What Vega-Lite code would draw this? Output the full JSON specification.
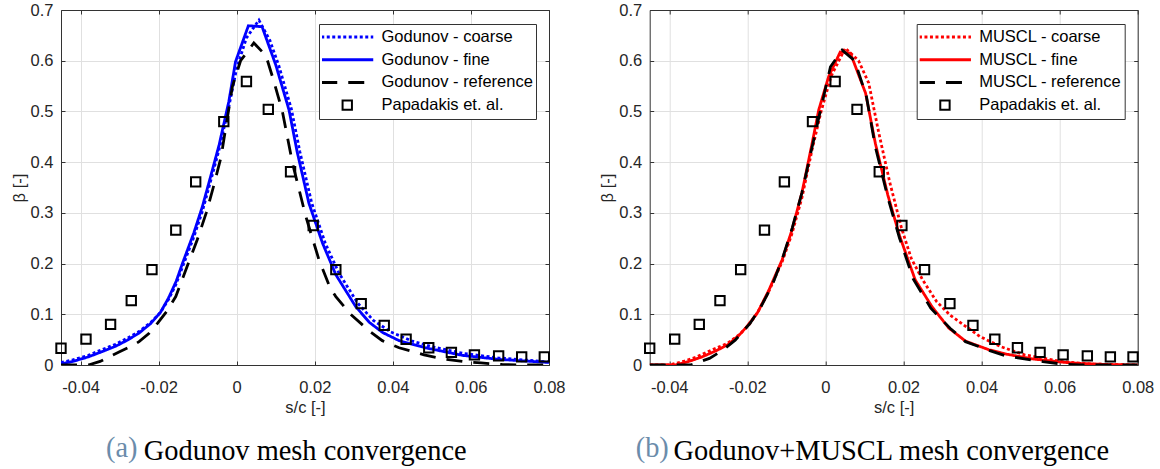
{
  "$schema": "https://vega.github.io/schema/vega-lite/v6.json",
  "padding": {"left": 11, "top": 2, "right": 0, "bottom": 0},
  "config": {
    "font": "Liberation Sans",
    "view": {"stroke": null},
    "axis": {"labelFont": "Liberation Sans", "labelFontSize": 16.5, "labelColor": "#262626", "titleFont": "Liberation Sans", "titleFontSize": 16.5, "titleFontWeight": "normal", "titleColor": "#262626", "domainColor": "#333333", "domainWidth": 1, "tickColor": "#333333", "tickSize": -4, "tickWidth": 1, "gridColor": "#e0e0e0", "gridWidth": 1, "labelFlush": false, "labelOverlap": false},
    "legend": {"labelFont": "Liberation Sans", "labelFontSize": 16.5, "labelColor": "#000000", "symbolSize": 2704, "clipHeight": 20, "rowPadding": 2.7, "padding": 3, "strokeColor": "#333333", "fillColor": "#ffffff", "symbolOffset": 17, "labelOffset": 26, "symbolStrokeWidth": 3, "labelLimit": 300}
  },
  "datasets": {
    "exp": [
      {"series": "Papadakis et. al.", "x": -0.045, "y": 0.033},
      {"series": "Papadakis et. al.", "x": -0.0386, "y": 0.051},
      {"series": "Papadakis et. al.", "x": -0.0323, "y": 0.08},
      {"series": "Papadakis et. al.", "x": -0.027, "y": 0.127},
      {"series": "Papadakis et. al.", "x": -0.0217, "y": 0.188},
      {"series": "Papadakis et. al.", "x": -0.0156, "y": 0.266},
      {"series": "Papadakis et. al.", "x": -0.0105, "y": 0.361},
      {"series": "Papadakis et. al.", "x": -0.0033, "y": 0.48},
      {"series": "Papadakis et. al.", "x": 0.0025, "y": 0.559},
      {"series": "Papadakis et. al.", "x": 0.0081, "y": 0.504},
      {"series": "Papadakis et. al.", "x": 0.0138, "y": 0.381},
      {"series": "Papadakis et. al.", "x": 0.0196, "y": 0.275},
      {"series": "Papadakis et. al.", "x": 0.0254, "y": 0.188},
      {"series": "Papadakis et. al.", "x": 0.0319, "y": 0.121},
      {"series": "Papadakis et. al.", "x": 0.0378, "y": 0.078},
      {"series": "Papadakis et. al.", "x": 0.0434, "y": 0.0507},
      {"series": "Papadakis et. al.", "x": 0.0492, "y": 0.034},
      {"series": "Papadakis et. al.", "x": 0.055, "y": 0.025},
      {"series": "Papadakis et. al.", "x": 0.0609, "y": 0.02},
      {"series": "Papadakis et. al.", "x": 0.0671, "y": 0.018},
      {"series": "Papadakis et. al.", "x": 0.073, "y": 0.016},
      {"series": "Papadakis et. al.", "x": 0.0788, "y": 0.016}
    ],
    "curves": [
      {"panel": "a", "series": "Godunov - fine", "x": -0.045, "y": 0.002},
      {"panel": "a", "series": "Godunov - fine", "x": -0.042, "y": 0.007},
      {"panel": "a", "series": "Godunov - fine", "x": -0.038, "y": 0.016},
      {"panel": "a", "series": "Godunov - fine", "x": -0.0346, "y": 0.026},
      {"panel": "a", "series": "Godunov - fine", "x": -0.031, "y": 0.037},
      {"panel": "a", "series": "Godunov - fine", "x": -0.028, "y": 0.049},
      {"panel": "a", "series": "Godunov - fine", "x": -0.025, "y": 0.063},
      {"panel": "a", "series": "Godunov - fine", "x": -0.022, "y": 0.082},
      {"panel": "a", "series": "Godunov - fine", "x": -0.0195, "y": 0.104},
      {"panel": "a", "series": "Godunov - fine", "x": -0.0174, "y": 0.133},
      {"panel": "a", "series": "Godunov - fine", "x": -0.0155, "y": 0.165},
      {"panel": "a", "series": "Godunov - fine", "x": -0.0139, "y": 0.2},
      {"panel": "a", "series": "Godunov - fine", "x": -0.011, "y": 0.26},
      {"panel": "a", "series": "Godunov - fine", "x": -0.0088, "y": 0.312},
      {"panel": "a", "series": "Godunov - fine", "x": -0.0067, "y": 0.371},
      {"panel": "a", "series": "Godunov - fine", "x": -0.0045, "y": 0.434},
      {"panel": "a", "series": "Godunov - fine", "x": -0.002, "y": 0.52},
      {"panel": "a", "series": "Godunov - fine", "x": -0.0003, "y": 0.598},
      {"panel": "a", "series": "Godunov - fine", "x": 0.003, "y": 0.669},
      {"panel": "a", "series": "Godunov - fine", "x": 0.0065, "y": 0.667},
      {"panel": "a", "series": "Godunov - fine", "x": 0.01, "y": 0.592},
      {"panel": "a", "series": "Godunov - fine", "x": 0.0134, "y": 0.503},
      {"panel": "a", "series": "Godunov - fine", "x": 0.0155, "y": 0.42},
      {"panel": "a", "series": "Godunov - fine", "x": 0.0185, "y": 0.319},
      {"panel": "a", "series": "Godunov - fine", "x": 0.022, "y": 0.24},
      {"panel": "a", "series": "Godunov - fine", "x": 0.0254, "y": 0.178},
      {"panel": "a", "series": "Godunov - fine", "x": 0.0305, "y": 0.115},
      {"panel": "a", "series": "Godunov - fine", "x": 0.034, "y": 0.084},
      {"panel": "a", "series": "Godunov - fine", "x": 0.0374, "y": 0.064},
      {"panel": "a", "series": "Godunov - fine", "x": 0.0416, "y": 0.048},
      {"panel": "a", "series": "Godunov - fine", "x": 0.0483, "y": 0.034},
      {"panel": "a", "series": "Godunov - fine", "x": 0.0578, "y": 0.019},
      {"panel": "a", "series": "Godunov - fine", "x": 0.0673, "y": 0.011},
      {"panel": "a", "series": "Godunov - fine", "x": 0.08, "y": 0.005},

      {"panel": "a", "series": "Godunov - coarse", "x": -0.045, "y": 0.005},
      {"panel": "a", "series": "Godunov - coarse", "x": -0.042, "y": 0.01},
      {"panel": "a", "series": "Godunov - coarse", "x": -0.038, "y": 0.019},
      {"panel": "a", "series": "Godunov - coarse", "x": -0.0346, "y": 0.03},
      {"panel": "a", "series": "Godunov - coarse", "x": -0.031, "y": 0.041},
      {"panel": "a", "series": "Godunov - coarse", "x": -0.028, "y": 0.053},
      {"panel": "a", "series": "Godunov - coarse", "x": -0.025, "y": 0.066},
      {"panel": "a", "series": "Godunov - coarse", "x": -0.022, "y": 0.084},
      {"panel": "a", "series": "Godunov - coarse", "x": -0.0195, "y": 0.104},
      {"panel": "a", "series": "Godunov - coarse", "x": -0.0174, "y": 0.13},
      {"panel": "a", "series": "Godunov - coarse", "x": -0.0155, "y": 0.16},
      {"panel": "a", "series": "Godunov - coarse", "x": -0.0139, "y": 0.193},
      {"panel": "a", "series": "Godunov - coarse", "x": -0.011, "y": 0.252},
      {"panel": "a", "series": "Godunov - coarse", "x": -0.0088, "y": 0.303},
      {"panel": "a", "series": "Godunov - coarse", "x": -0.0067, "y": 0.362},
      {"panel": "a", "series": "Godunov - coarse", "x": -0.0045, "y": 0.425},
      {"panel": "a", "series": "Godunov - coarse", "x": -0.002, "y": 0.51},
      {"panel": "a", "series": "Godunov - coarse", "x": 0.0, "y": 0.585},
      {"panel": "a", "series": "Godunov - coarse", "x": 0.0025, "y": 0.645},
      {"panel": "a", "series": "Godunov - coarse", "x": 0.0057, "y": 0.68},
      {"panel": "a", "series": "Godunov - coarse", "x": 0.0085, "y": 0.64},
      {"panel": "a", "series": "Godunov - coarse", "x": 0.0108, "y": 0.59},
      {"panel": "a", "series": "Godunov - coarse", "x": 0.014, "y": 0.505},
      {"panel": "a", "series": "Godunov - coarse", "x": 0.0162, "y": 0.42},
      {"panel": "a", "series": "Godunov - coarse", "x": 0.0192, "y": 0.32},
      {"panel": "a", "series": "Godunov - coarse", "x": 0.0227, "y": 0.24},
      {"panel": "a", "series": "Godunov - coarse", "x": 0.0262, "y": 0.181},
      {"panel": "a", "series": "Godunov - coarse", "x": 0.031, "y": 0.122},
      {"panel": "a", "series": "Godunov - coarse", "x": 0.035, "y": 0.088},
      {"panel": "a", "series": "Godunov - coarse", "x": 0.0395, "y": 0.065},
      {"panel": "a", "series": "Godunov - coarse", "x": 0.045, "y": 0.047},
      {"panel": "a", "series": "Godunov - coarse", "x": 0.05, "y": 0.036},
      {"panel": "a", "series": "Godunov - coarse", "x": 0.058, "y": 0.023},
      {"panel": "a", "series": "Godunov - coarse", "x": 0.067, "y": 0.014},
      {"panel": "a", "series": "Godunov - coarse", "x": 0.08, "y": 0.006},

      {"panel": "a", "series": "Godunov - reference", "x": -0.045, "y": 0.0},
      {"panel": "a", "series": "Godunov - reference", "x": -0.038, "y": 0.0},
      {"panel": "a", "series": "Godunov - reference", "x": -0.035, "y": 0.007},
      {"panel": "a", "series": "Godunov - reference", "x": -0.0327, "y": 0.016},
      {"panel": "a", "series": "Godunov - reference", "x": -0.03, "y": 0.026},
      {"panel": "a", "series": "Godunov - reference", "x": -0.027, "y": 0.037},
      {"panel": "a", "series": "Godunov - reference", "x": -0.025, "y": 0.046},
      {"panel": "a", "series": "Godunov - reference", "x": -0.0225, "y": 0.062},
      {"panel": "a", "series": "Godunov - reference", "x": -0.0203, "y": 0.082},
      {"panel": "a", "series": "Godunov - reference", "x": -0.018, "y": 0.105},
      {"panel": "a", "series": "Godunov - reference", "x": -0.0156, "y": 0.135},
      {"panel": "a", "series": "Godunov - reference", "x": -0.0127, "y": 0.194},
      {"panel": "a", "series": "Godunov - reference", "x": -0.0101, "y": 0.247},
      {"panel": "a", "series": "Godunov - reference", "x": -0.0078, "y": 0.3},
      {"panel": "a", "series": "Godunov - reference", "x": -0.006, "y": 0.35},
      {"panel": "a", "series": "Godunov - reference", "x": -0.004, "y": 0.41},
      {"panel": "a", "series": "Godunov - reference", "x": -0.0011, "y": 0.549},
      {"panel": "a", "series": "Godunov - reference", "x": 0.001, "y": 0.6},
      {"panel": "a", "series": "Godunov - reference", "x": 0.0044, "y": 0.635},
      {"panel": "a", "series": "Godunov - reference", "x": 0.0075, "y": 0.61},
      {"panel": "a", "series": "Godunov - reference", "x": 0.0095, "y": 0.56},
      {"panel": "a", "series": "Godunov - reference", "x": 0.0117, "y": 0.5},
      {"panel": "a", "series": "Godunov - reference", "x": 0.0143, "y": 0.398},
      {"panel": "a", "series": "Godunov - reference", "x": 0.0177, "y": 0.293},
      {"panel": "a", "series": "Godunov - reference", "x": 0.0211, "y": 0.207},
      {"panel": "a", "series": "Godunov - reference", "x": 0.024, "y": 0.151},
      {"panel": "a", "series": "Godunov - reference", "x": 0.0254, "y": 0.135},
      {"panel": "a", "series": "Godunov - reference", "x": 0.0292, "y": 0.1},
      {"panel": "a", "series": "Godunov - reference", "x": 0.034, "y": 0.067},
      {"panel": "a", "series": "Godunov - reference", "x": 0.0373, "y": 0.048},
      {"panel": "a", "series": "Godunov - reference", "x": 0.0416, "y": 0.034},
      {"panel": "a", "series": "Godunov - reference", "x": 0.048, "y": 0.02},
      {"panel": "a", "series": "Godunov - reference", "x": 0.053, "y": 0.012},
      {"panel": "a", "series": "Godunov - reference", "x": 0.058, "y": 0.007},
      {"panel": "a", "series": "Godunov - reference", "x": 0.0626, "y": 0.004},
      {"panel": "a", "series": "Godunov - reference", "x": 0.068, "y": 0.001},
      {"panel": "a", "series": "Godunov - reference", "x": 0.072, "y": 0.0},
      {"panel": "a", "series": "Godunov - reference", "x": 0.08, "y": 0.0},

      {"panel": "b", "series": "MUSCL - fine", "x": -0.045, "y": 0.0},
      {"panel": "b", "series": "MUSCL - fine", "x": -0.0385, "y": 0.0},
      {"panel": "b", "series": "MUSCL - fine", "x": -0.035, "y": 0.007},
      {"panel": "b", "series": "MUSCL - fine", "x": -0.0316, "y": 0.016},
      {"panel": "b", "series": "MUSCL - fine", "x": -0.028, "y": 0.028},
      {"panel": "b", "series": "MUSCL - fine", "x": -0.025, "y": 0.04},
      {"panel": "b", "series": "MUSCL - fine", "x": -0.0222, "y": 0.058},
      {"panel": "b", "series": "MUSCL - fine", "x": -0.0202, "y": 0.075},
      {"panel": "b", "series": "MUSCL - fine", "x": -0.0174, "y": 0.103},
      {"panel": "b", "series": "MUSCL - fine", "x": -0.0145, "y": 0.147},
      {"panel": "b", "series": "MUSCL - fine", "x": -0.0111, "y": 0.207},
      {"panel": "b", "series": "MUSCL - fine", "x": -0.0086, "y": 0.265},
      {"panel": "b", "series": "MUSCL - fine", "x": -0.006, "y": 0.34},
      {"panel": "b", "series": "MUSCL - fine", "x": -0.0034, "y": 0.437},
      {"panel": "b", "series": "MUSCL - fine", "x": -0.0017, "y": 0.503},
      {"panel": "b", "series": "MUSCL - fine", "x": 0.00085, "y": 0.569},
      {"panel": "b", "series": "MUSCL - fine", "x": 0.0038, "y": 0.617},
      {"panel": "b", "series": "MUSCL - fine", "x": 0.0064, "y": 0.615},
      {"panel": "b", "series": "MUSCL - fine", "x": 0.0103, "y": 0.536},
      {"panel": "b", "series": "MUSCL - fine", "x": 0.0128, "y": 0.437},
      {"panel": "b", "series": "MUSCL - fine", "x": 0.016, "y": 0.335},
      {"panel": "b", "series": "MUSCL - fine", "x": 0.019, "y": 0.255},
      {"panel": "b", "series": "MUSCL - fine", "x": 0.023, "y": 0.168},
      {"panel": "b", "series": "MUSCL - fine", "x": 0.0273, "y": 0.115},
      {"panel": "b", "series": "MUSCL - fine", "x": 0.0316, "y": 0.073},
      {"panel": "b", "series": "MUSCL - fine", "x": 0.0359, "y": 0.047},
      {"panel": "b", "series": "MUSCL - fine", "x": 0.0419, "y": 0.03},
      {"panel": "b", "series": "MUSCL - fine", "x": 0.046, "y": 0.022},
      {"panel": "b", "series": "MUSCL - fine", "x": 0.053, "y": 0.012},
      {"panel": "b", "series": "MUSCL - fine", "x": 0.0615, "y": 0.005},
      {"panel": "b", "series": "MUSCL - fine", "x": 0.0652, "y": 0.003},
      {"panel": "b", "series": "MUSCL - fine", "x": 0.072, "y": 0.001},
      {"panel": "b", "series": "MUSCL - fine", "x": 0.08, "y": 0.0},

      {"panel": "b", "series": "MUSCL - coarse", "x": -0.045, "y": 0.0},
      {"panel": "b", "series": "MUSCL - coarse", "x": -0.04, "y": 0.0},
      {"panel": "b", "series": "MUSCL - coarse", "x": -0.0364, "y": 0.007},
      {"panel": "b", "series": "MUSCL - coarse", "x": -0.033, "y": 0.016},
      {"panel": "b", "series": "MUSCL - coarse", "x": -0.029, "y": 0.03},
      {"panel": "b", "series": "MUSCL - coarse", "x": -0.025, "y": 0.043},
      {"panel": "b", "series": "MUSCL - coarse", "x": -0.022, "y": 0.06},
      {"panel": "b", "series": "MUSCL - coarse", "x": -0.0195, "y": 0.08},
      {"panel": "b", "series": "MUSCL - coarse", "x": -0.0174, "y": 0.103},
      {"panel": "b", "series": "MUSCL - coarse", "x": -0.0145, "y": 0.145},
      {"panel": "b", "series": "MUSCL - coarse", "x": -0.0111, "y": 0.203},
      {"panel": "b", "series": "MUSCL - coarse", "x": -0.0086, "y": 0.258},
      {"panel": "b", "series": "MUSCL - coarse", "x": -0.006, "y": 0.33},
      {"panel": "b", "series": "MUSCL - coarse", "x": -0.0034, "y": 0.425},
      {"panel": "b", "series": "MUSCL - coarse", "x": -0.0011, "y": 0.5},
      {"panel": "b", "series": "MUSCL - coarse", "x": 0.0015, "y": 0.57},
      {"panel": "b", "series": "MUSCL - coarse", "x": 0.0051, "y": 0.625},
      {"panel": "b", "series": "MUSCL - coarse", "x": 0.0085, "y": 0.6},
      {"panel": "b", "series": "MUSCL - coarse", "x": 0.0111, "y": 0.556},
      {"panel": "b", "series": "MUSCL - coarse", "x": 0.0137, "y": 0.457},
      {"panel": "b", "series": "MUSCL - coarse", "x": 0.0165, "y": 0.36},
      {"panel": "b", "series": "MUSCL - coarse", "x": 0.0195, "y": 0.27},
      {"panel": "b", "series": "MUSCL - coarse", "x": 0.022, "y": 0.21},
      {"panel": "b", "series": "MUSCL - coarse", "x": 0.0249, "y": 0.168},
      {"panel": "b", "series": "MUSCL - coarse", "x": 0.0285, "y": 0.125},
      {"panel": "b", "series": "MUSCL - coarse", "x": 0.032, "y": 0.098},
      {"panel": "b", "series": "MUSCL - coarse", "x": 0.0396, "y": 0.056},
      {"panel": "b", "series": "MUSCL - coarse", "x": 0.045, "y": 0.036},
      {"panel": "b", "series": "MUSCL - coarse", "x": 0.051, "y": 0.02},
      {"panel": "b", "series": "MUSCL - coarse", "x": 0.0605, "y": 0.007},
      {"panel": "b", "series": "MUSCL - coarse", "x": 0.068, "y": 0.002},
      {"panel": "b", "series": "MUSCL - coarse", "x": 0.08, "y": 0.0},

      {"panel": "b", "series": "MUSCL - reference", "x": -0.045, "y": 0.0},
      {"panel": "b", "series": "MUSCL - reference", "x": -0.0345, "y": 0.0},
      {"panel": "b", "series": "MUSCL - reference", "x": -0.0297, "y": 0.013},
      {"panel": "b", "series": "MUSCL - reference", "x": -0.0265, "y": 0.028},
      {"panel": "b", "series": "MUSCL - reference", "x": -0.0231, "y": 0.049},
      {"panel": "b", "series": "MUSCL - reference", "x": -0.0193, "y": 0.082},
      {"panel": "b", "series": "MUSCL - reference", "x": -0.0165, "y": 0.115},
      {"panel": "b", "series": "MUSCL - reference", "x": -0.0136, "y": 0.158},
      {"panel": "b", "series": "MUSCL - reference", "x": -0.011, "y": 0.21},
      {"panel": "b", "series": "MUSCL - reference", "x": -0.0085, "y": 0.27},
      {"panel": "b", "series": "MUSCL - reference", "x": -0.006, "y": 0.34},
      {"panel": "b", "series": "MUSCL - reference", "x": -0.0034, "y": 0.43},
      {"panel": "b", "series": "MUSCL - reference", "x": 0.0013, "y": 0.588},
      {"panel": "b", "series": "MUSCL - reference", "x": 0.0043, "y": 0.621},
      {"panel": "b", "series": "MUSCL - reference", "x": 0.0075, "y": 0.6},
      {"panel": "b", "series": "MUSCL - reference", "x": 0.0105, "y": 0.53},
      {"panel": "b", "series": "MUSCL - reference", "x": 0.0128, "y": 0.43},
      {"panel": "b", "series": "MUSCL - reference", "x": 0.016, "y": 0.33},
      {"panel": "b", "series": "MUSCL - reference", "x": 0.019, "y": 0.25},
      {"panel": "b", "series": "MUSCL - reference", "x": 0.0225, "y": 0.17},
      {"panel": "b", "series": "MUSCL - reference", "x": 0.027, "y": 0.112},
      {"panel": "b", "series": "MUSCL - reference", "x": 0.032, "y": 0.072},
      {"panel": "b", "series": "MUSCL - reference", "x": 0.0359, "y": 0.046},
      {"panel": "b", "series": "MUSCL - reference", "x": 0.0415, "y": 0.03},
      {"panel": "b", "series": "MUSCL - reference", "x": 0.0462, "y": 0.018},
      {"panel": "b", "series": "MUSCL - reference", "x": 0.0557, "y": 0.0066},
      {"panel": "b", "series": "MUSCL - reference", "x": 0.0605, "y": 0.002},
      {"panel": "b", "series": "MUSCL - reference", "x": 0.065, "y": 0.0},
      {"panel": "b", "series": "MUSCL - reference", "x": 0.08, "y": 0.0}
    ]
  },
  "hconcat": [
    {
      "width": 488, "height": 355,
      "title": {"text": "(a)", "subtitle": "\u200b\u00a0\u00a0\u00a0\u00a0\u00a0\u200aGodunov mesh convergence", "orient": "bottom", "anchor": "start", "frame": "group", "dx": 45, "offset": 19, "font": "Liberation Serif", "fontSize": 28.4, "fontWeight": "normal", "color": "#6b8cab", "subtitleFont": "Liberation Serif", "subtitleFontSize": 28.4, "subtitleColor": "#000000", "subtitlePadding": -25.5},
      "layer": [
        {
          "data": {"name": "curves"},
          "transform": [{"filter": "datum.panel == 'a'"}],
          "mark": {"type": "line", "strokeWidth": 2.8, "clip": true},
          "encoding": {
            "x": {"field": "x", "type": "quantitative", "scale": {"domain": [-0.045, 0.08], "nice": false, "zero": false}, "axis": {"values": [-0.04, -0.02, 0, 0.02, 0.04, 0.06, 0.08], "labelExpr": "replace(format(datum.value, '.2~f'), '\u2212', '-')", "title": "s/c [-]", "grid": true, "labelPadding": 18, "titlePadding": 4}},
            "y": {"field": "y", "type": "quantitative", "scale": {"domain": [0, 0.7], "nice": false, "zero": false}, "axis": {"values": [0, 0.1, 0.2, 0.3, 0.4, 0.5, 0.6, 0.7], "format": ".1~f", "title": "β [-]", "grid": true, "labelPadding": 12, "titlePadding": 3}},
            "color": {"field": "series", "type": "nominal", "scale": {"domain": ["Godunov - coarse", "Godunov - fine", "Godunov - reference", "Papadakis et. al."], "range": ["#0000ff", "#0000ff", "#000000", "#000000"]}, "legend": {"title": null, "orient": "top-right", "offset": 13.5, "symbolSize": 2704, "encode": {"symbols": {"update": {"strokeWidth": {"signal": "datum.value == 'Papadakis et. al.' ? 2 : 3"}, "fill": {"value": "transparent"}}}}}},
            "strokeDash": {"field": "series", "type": "nominal", "scale": {"domain": ["Godunov - coarse", "Godunov - fine", "Godunov - reference", "Papadakis et. al."], "range": [[3, 2.5], [1, 0], [16, 11], [1, 0]]}, "legend": {"title": null, "orient": "top-right", "offset": 13.5, "symbolSize": 2704}}
          }
        },
        {
          "data": {"name": "exp"},
          "mark": {"type": "point", "filled": false, "size": 2704, "strokeWidth": 2, "opacity": 1, "clip": false},
          "encoding": {
            "x": {"field": "x", "type": "quantitative", "scale": {"domain": [-0.045, 0.08], "nice": false, "zero": false}, "axis": {"orient": "top", "values": [-0.04, -0.02, 0, 0.02, 0.04, 0.06, 0.08], "labels": false, "title": null, "grid": false}},
            "y": {"field": "y", "type": "quantitative", "scale": {"domain": [0, 0.7], "nice": false, "zero": false}, "axis": {"orient": "right", "values": [0, 0.1, 0.2, 0.3, 0.4, 0.5, 0.6, 0.7], "labels": false, "title": null, "grid": false}},
            "color": {"field": "series", "type": "nominal", "scale": {"domain": ["Godunov - coarse", "Godunov - fine", "Godunov - reference", "Papadakis et. al."], "range": ["#0000ff", "#0000ff", "#000000", "#000000"]}, "legend": {"title": null, "orient": "top-right", "offset": 13.5, "symbolSize": 2704}},
            "shape": {"field": "series", "type": "nominal", "scale": {"domain": ["Godunov - coarse", "Godunov - fine", "Godunov - reference", "Papadakis et. al."], "range": ["stroke", "stroke", "stroke", "M-0.18,-0.18H0.18V0.18H-0.18Z"]}, "legend": {"title": null, "orient": "top-right", "offset": 13.5, "symbolSize": 2704}}
          }
        }
      ],
      "resolve": {"axis": {"x": "independent", "y": "independent"}}
    },
    {
      "width": 488, "height": 355,
      "title": {"text": "(b)", "subtitle": "\u200b\u00a0\u00a0\u00a0\u00a0\u00a0\u200aGodunov+MUSCL mesh convergence", "orient": "bottom", "anchor": "start", "frame": "group", "dx": -14, "offset": 19, "font": "Liberation Serif", "fontSize": 28.4, "fontWeight": "normal", "color": "#6b8cab", "subtitleFont": "Liberation Serif", "subtitleFontSize": 28.4, "subtitleColor": "#000000", "subtitlePadding": -25.5},
      "layer": [
        {
          "data": {"name": "curves"},
          "transform": [{"filter": "datum.panel == 'b'"}],
          "mark": {"type": "line", "strokeWidth": 2.8, "clip": true},
          "encoding": {
            "x": {"field": "x", "type": "quantitative", "scale": {"domain": [-0.045, 0.08], "nice": false, "zero": false}, "axis": {"values": [-0.04, -0.02, 0, 0.02, 0.04, 0.06, 0.08], "labelExpr": "replace(format(datum.value, '.2~f'), '\u2212', '-')", "title": "s/c [-]", "grid": true, "labelPadding": 18, "titlePadding": 4}},
            "y": {"field": "y", "type": "quantitative", "scale": {"domain": [0, 0.7], "nice": false, "zero": false}, "axis": {"values": [0, 0.1, 0.2, 0.3, 0.4, 0.5, 0.6, 0.7], "format": ".1~f", "title": "β [-]", "grid": true, "labelPadding": 12, "titlePadding": 3}},
            "color": {"field": "series", "type": "nominal", "scale": {"domain": ["MUSCL - coarse", "MUSCL - fine", "MUSCL - reference", "Papadakis et. al."], "range": ["#ff0000", "#ff0000", "#000000", "#000000"]}, "legend": {"title": null, "orient": "top-right", "offset": 13.5, "symbolSize": 2704, "encode": {"symbols": {"update": {"strokeWidth": {"signal": "datum.value == 'Papadakis et. al.' ? 2 : 3"}, "fill": {"value": "transparent"}}}}}},
            "strokeDash": {"field": "series", "type": "nominal", "scale": {"domain": ["MUSCL - coarse", "MUSCL - fine", "MUSCL - reference", "Papadakis et. al."], "range": [[3, 2.5], [1, 0], [16, 11], [1, 0]]}, "legend": {"title": null, "orient": "top-right", "offset": 13.5, "symbolSize": 2704}}
          }
        },
        {
          "data": {"name": "exp"},
          "mark": {"type": "point", "filled": false, "size": 2704, "strokeWidth": 2, "opacity": 1, "clip": false},
          "encoding": {
            "x": {"field": "x", "type": "quantitative", "scale": {"domain": [-0.045, 0.08], "nice": false, "zero": false}, "axis": {"orient": "top", "values": [-0.04, -0.02, 0, 0.02, 0.04, 0.06, 0.08], "labels": false, "title": null, "grid": false}},
            "y": {"field": "y", "type": "quantitative", "scale": {"domain": [0, 0.7], "nice": false, "zero": false}, "axis": {"orient": "right", "values": [0, 0.1, 0.2, 0.3, 0.4, 0.5, 0.6, 0.7], "labels": false, "title": null, "grid": false}},
            "color": {"field": "series", "type": "nominal", "scale": {"domain": ["MUSCL - coarse", "MUSCL - fine", "MUSCL - reference", "Papadakis et. al."], "range": ["#ff0000", "#ff0000", "#000000", "#000000"]}, "legend": {"title": null, "orient": "top-right", "offset": 13.5, "symbolSize": 2704}},
            "shape": {"field": "series", "type": "nominal", "scale": {"domain": ["MUSCL - coarse", "MUSCL - fine", "MUSCL - reference", "Papadakis et. al."], "range": ["stroke", "stroke", "stroke", "M-0.18,-0.18H0.18V0.18H-0.18Z"]}, "legend": {"title": null, "orient": "top-right", "offset": 13.5, "symbolSize": 2704}}
          }
        }
      ],
      "resolve": {"axis": {"x": "independent", "y": "independent"}}
    }
  ],
  "spacing": 100.7,
  "bounds": "flush",
  "resolve": {"scale": {"color": "independent", "strokeDash": "independent", "shape": "independent"}, "legend": {"color": "independent", "strokeDash": "independent", "shape": "independent"}}
}
